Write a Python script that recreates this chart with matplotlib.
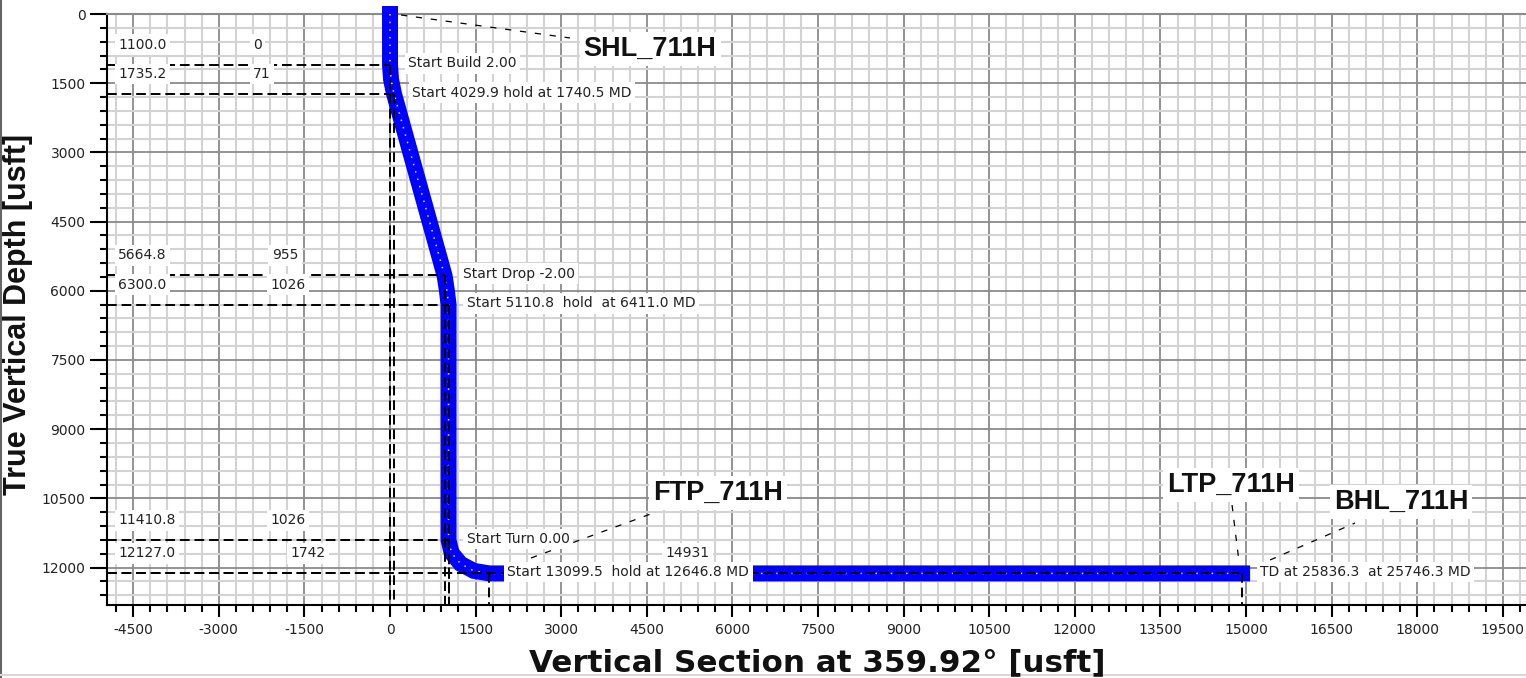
import numpy as np
import matplotlib
matplotlib.use('Agg')
import matplotlib.pyplot as plt
from matplotlib.lines import Line2D
from matplotlib.ticker import MultipleLocator

plt.rcParams['axes.unicode_minus'] = False
plt.rcParams['font.family'] = 'DejaVu Sans'

# Well path (vertical section, TVD)
pathVs = [0, 0, 18, 71, 955, 995, 1026, 1026, 1080, 1236, 1468, 1742, 14931]
pathTvd = [0, 1100.0, 1418, 1735.2, 5664.8, 5982, 6300.0, 11410.8, 11685, 11917, 12072, 12127.0, 12127.0]

# Plan points with their table values and notes
ptVs = [0, 71, 955, 1026, 1026, 1742, 14931]
ptTvd = [1100.0, 1735.2, 5664.8, 6300.0, 11410.8, 12127.0, 12127.0]
tvdLabels = ['1100.0', '1735.2', '5664.8', '6300.0', '11410.8', '12127.0', '']
vsLabels = ['0', '71', '955', '1026', '1026', '1742', '14931']
notes = ['Start Build 2.00',
         'Start 4029.9 hold at 1740.5 MD',
         'Start Drop -2.00',
         'Start 5110.8  hold  at 6411.0 MD',
         'Start Turn 0.00',
         'Start 13099.5  hold at 12646.8 MD',
         'TD at 25836.3  at 25746.3 MD']

targetNames = ['SHL_711H', 'FTP_711H', 'LTP_711H', 'BHL_711H']

xTicks = np.arange(-4500, 19501, 1500)
yTicks = np.arange(0, 12001, 1500)

fig = plt.figure(figsize=(15.26, 6.78), dpi=100)
ax = fig.add_axes([107 / 1526, 1 - 604.5 / 678, 1 - 107 / 1526, 590.5 / 678])
ax.set_xlim(-4959, 19905)
ax.set_ylim(12801, 0)

# grid
ax.set_xticks(xTicks)
ax.set_yticks(yTicks)
ax.xaxis.set_minor_locator(MultipleLocator(300))
ax.yaxis.set_minor_locator(MultipleLocator(300))
ax.grid(which='minor', color='#d3d3d3', lw=1.5)
ax.grid(which='major', color='#8a8a8a', lw=1.3)
ax.set_axisbelow(True)

ax.tick_params(axis='x', which='major', length=8.5, width=1.5, pad=5, labelsize=10, labelcolor='#222222')
ax.tick_params(axis='x', which='minor', length=5, width=1.5)
ax.tick_params(axis='y', which='major', length=12, width=1.5, pad=3.5, labelsize=10, labelcolor='#222222')
ax.tick_params(axis='y', which='minor', length=5, width=1.5)

for s in ['left', 'bottom']:
    ax.spines[s].set_linewidth(1.5)
ax.spines['top'].set_color('#8a8a8a')
ax.spines['top'].set_linewidth(1.5)
ax.spines['right'].set_visible(False)

# well path band
ax.plot(pathVs, pathTvd, color='#0000ff', lw=11.5, solid_capstyle='projecting',
        solid_joinstyle='miter', clip_on=False, zorder=3)
ax.plot(pathVs, pathTvd, color='white', lw=1.1, ls=(0, (1, 4)), alpha=0.85,
        clip_on=False, zorder=3.1)

xLeft, xRight = ax.get_xlim()
yBottom = ax.get_ylim()[0]
dash = (0, (5, 2.5))

# section lines and the table values
vsLabelX = [-2400, -2400, -2070, -2100, -2090, -1750, 4820]
for i in range(len(ptVs)):
    ax.plot([xLeft, ptVs[i]], [ptTvd[i], ptTvd[i]], color='black', lw=1.4, ls=dash, zorder=4)
    ax.plot([ptVs[i], ptVs[i]], [ptTvd[i], yBottom], color='black', lw=1.4, ls=dash, zorder=4)
    if tvdLabels[i]:
        ax.text(-4766, ptTvd[i] - 435, tvdLabels[i], fontsize=10, color='#222222',
                ha='left', va='center', zorder=5,
                bbox=dict(fc='white', ec='none', pad=2.5))
    ax.text(vsLabelX[i], ptTvd[i] - 435, vsLabels[i], fontsize=10, color='#222222',
            ha='left', va='center', zorder=5,
            bbox=dict(fc='white', ec='none', pad=2.5))
    ax.annotate(notes[i], (ptVs[i], ptTvd[i]), xytext=(13, 1), textcoords='offset points',
                fontsize=10, color='#222222', ha='left', va='center', zorder=6,
                bbox=dict(fc='white', ec='none', pad=2.5))

# target labels with leaders
leaderStart = [(193, 22), (2471, 11793), (14754, 10644), (15420, 11836)]
leaderEnd = [(3154, 520), (4661, 10796), (14877, 11880), (16909, 11034)]
labelPos = [(4556, 759), (5747, 10384), (14736, 10210), (17715, 10579)]
for name, p0, p1, lp in zip(targetNames, leaderStart, leaderEnd, labelPos):
    ax.plot([p0[0], p1[0]], [p0[1], p1[1]], color='black', lw=0.9, ls=(0, (5, 7)), zorder=4)
    ax.text(lp[0], lp[1], name, fontsize=19.5, fontweight='bold', family='Liberation Sans',
            color='#111111', ha='center', va='center', zorder=6,
            bbox=dict(fc='white', ec='none', pad=3))

# axis titles
fig.text(817.5 / 1526, 1 - 671 / 678, 'Vertical Section at 359.92\u00b0 [usft]',
         fontsize=22.3, fontweight='bold', ha='center', va='baseline', color='#111111')
fig.text(26 / 1526, 1 - 314 / 678, 'True Vertical Depth [usft]', rotation=90,
         rotation_mode='anchor', fontsize=22, fontweight='bold', family='Liberation Sans',
         ha='center', va='baseline', color='#111111')

# outer frame bits
fig.add_artist(Line2D([0.0008, 0.0008], [0, 1], transform=fig.transFigure, color='#666666', lw=1.5))
fig.add_artist(Line2D([0, 1], [1 - 675 / 678, 1 - 675 / 678], transform=fig.transFigure,
                      color='#d8d8d8', lw=1.5))

fig.savefig('out.png', dpi=100)
